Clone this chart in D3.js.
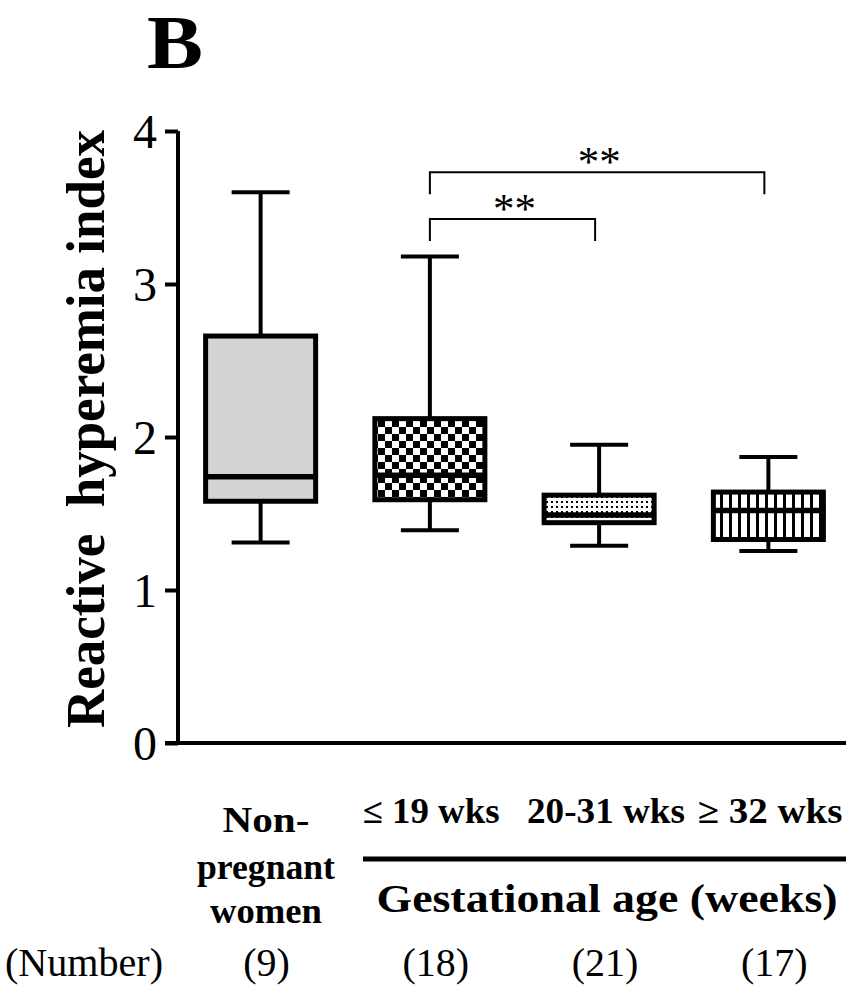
<!DOCTYPE html>
<html>
<head>
<meta charset="utf-8">
<script src="https://cdn.jsdelivr.net/npm/d3@7"></script>
<style>
  body { margin: 0; background: #fff; }
  text { font-family: "Liberation Serif", "Times New Roman", serif; }
</style>
</head>
<body>
<div id="chart"></div>
<script>
// box plot values
var groups = ['nonpreg', 'le19', '20-31', 'ge32'];
var mins    = [1.31, 1.39, 1.29, 1.255];
var q1s     = [1.58, 1.59, 1.44, 1.33];
var medians = [1.74, 1.75, 1.49, 1.52];
var q3s     = [2.66, 2.12, 1.62, 1.64];
var maxs    = [3.60, 3.18, 1.95, 1.87];
var fills   = ['#d3d3d3', 'url(#checker)', 'url(#dots)', 'url(#stripes)'];
var counts  = ['(9)', '(18)', '(21)', '(17)'];
var yTicks  = [0, 1, 2, 3, 4];
// [from group, to group, bracket height]
var sigPairs = [[1, 2, 3.425], [1, 3, 3.73]];

var width = 858, height = 990;

var svg = d3.select('#chart').append('svg')
  .attr('width', width)
  .attr('height', height);

var x = d3.scaleBand().domain(groups).range([176, 853])
  .paddingInner(0.35).paddingOuter(0.175);
var y = d3.scaleLinear().domain([0, 4]).range([743, 131]);

// fill patterns
var defs = svg.append('defs');
var ch = defs.append('pattern').attr('id', 'checker')
  .attr('patternUnits', 'userSpaceOnUse').attr('width', 14).attr('height', 14);
ch.append('rect').attr('width', 14).attr('height', 14).attr('fill', '#fff');
ch.append('rect').attr('width', 7).attr('height', 7).attr('fill', '#000');
ch.append('rect').attr('x', 7).attr('y', 7).attr('width', 7).attr('height', 7).attr('fill', '#000');

var dt = defs.append('pattern').attr('id', 'dots')
  .attr('patternUnits', 'userSpaceOnUse').attr('width', 5).attr('height', 5);
dt.append('rect').attr('width', 5).attr('height', 5).attr('fill', '#fff');
dt.append('rect').attr('x', 1).attr('y', 1).attr('width', 2).attr('height', 2).attr('fill', '#000');

var st = defs.append('pattern').attr('id', 'stripes')
  .attr('patternUnits', 'userSpaceOnUse').attr('width', 9).attr('height', 9);
st.append('rect').attr('width', 9).attr('height', 9).attr('fill', '#fff');
st.append('rect').attr('width', 3).attr('height', 9).attr('fill', '#000');

// axes
var yAxis = svg.append('g')
  .attr('transform', 'translate(178,0)')
  .call(d3.axisLeft(y).tickValues(yTicks).tickFormat(d3.format('d')).tickSize(13).tickPadding(8));
yAxis.select('.domain').attr('stroke-width', 4).attr('d', 'M0,' + y(4) + 'V' + y(0));
yAxis.selectAll('.tick line').attr('stroke-width', 4);
yAxis.selectAll('.tick text')
  .style('font-family', '"Liberation Serif", serif')
  .style('font-size', '48px')
  .attr('dy', '0.34em');

svg.append('line')
  .attr('x1', 165).attr('x2', 846)
  .attr('y1', y(0)).attr('y2', y(0))
  .attr('stroke', '#000').attr('stroke-width', 4);

// boxes
var cx = function(i) { return x(groups[i]) + x.bandwidth() / 2; };
var capHalf = 29;

groups.forEach(function(g, i) {
  var c = cx(i);
  var gg = svg.append('g');
  gg.append('line').attr('x1', c).attr('x2', c)
    .attr('y1', y(maxs[i])).attr('y2', y(q3s[i]))
    .attr('stroke', '#000').attr('stroke-width', 4);
  gg.append('line').attr('x1', c).attr('x2', c)
    .attr('y1', y(q1s[i])).attr('y2', y(mins[i]))
    .attr('stroke', '#000').attr('stroke-width', 4);
  gg.append('line').attr('x1', c - capHalf).attr('x2', c + capHalf)
    .attr('y1', y(maxs[i])).attr('y2', y(maxs[i]))
    .attr('stroke', '#000').attr('stroke-width', 4);
  gg.append('line').attr('x1', c - capHalf).attr('x2', c + capHalf)
    .attr('y1', y(mins[i])).attr('y2', y(mins[i]))
    .attr('stroke', '#000').attr('stroke-width', 4);
  gg.append('rect')
    .attr('x', x(g)).attr('width', x.bandwidth())
    .attr('y', y(q3s[i])).attr('height', y(q1s[i]) - y(q3s[i]))
    .attr('fill', fills[i])
    .attr('stroke', '#000').attr('stroke-width', 5);
  gg.append('line').attr('x1', x(g)).attr('x2', x(g) + x.bandwidth() + 2)
    .attr('y1', y(medians[i])).attr('y2', y(medians[i]))
    .attr('stroke', '#000').attr('stroke-width', 5.5);
});

// significance brackets
sigPairs.forEach(function(p) {
  var x1 = cx(p[0]), x2 = cx(p[1]) - 4, yy = y(p[2]);
  svg.append('path')
    .attr('d', 'M' + x1 + ',' + (yy + 22) + 'V' + yy + 'H' + x2 + 'V' + (yy + 22))
    .attr('fill', 'none').attr('stroke', '#000').attr('stroke-width', 2);
  svg.append('text')
    .attr('x', (x1 + x2) / 2 + 2).attr('y', yy + 4)
    .attr('text-anchor', 'middle')
    .style('font-size', '43px')
    .text('**');
});

// panel letter
svg.append('text')
  .attr('x', 147).attr('y', 68)
  .attr('textLength', 56).attr('lengthAdjust', 'spacingAndGlyphs')
  .style('font-size', '76px').style('font-weight', 'bold')
  .text('B');

// y title
svg.append('text')
  .attr('transform', 'translate(104,429) rotate(-90)')
  .attr('text-anchor', 'middle')
  .attr('textLength', 598).attr('lengthAdjust', 'spacingAndGlyphs')
  .style('white-space', 'pre')
  .style('font-size', '54px').style('font-weight', 'bold')
  .text('Reactive  hyperemia index');

// category labels
var nonLines = ['Non-', 'pregnant', 'women'];
var nonWidths = [87, 138, 112];
var nonBase = [832, 879, 923];
nonLines.forEach(function(t, k) {
  svg.append('text')
    .attr('x', 266).attr('y', nonBase[k])
    .attr('text-anchor', 'middle')
    .attr('textLength', nonWidths[k]).attr('lengthAdjust', 'spacingAndGlyphs')
    .style('font-size', '35px').style('font-weight', 'bold')
    .text(t);
});
var gestLabels = ['\u2264 19 wks', '20-31 wks', '\u2265 32 wks'];
var gestWidths = [137, 158, 145];
var gestCenters = [431, 606, 770];
gestLabels.forEach(function(t, k) {
  svg.append('text')
    .attr('x', gestCenters[k]).attr('y', 823)
    .attr('text-anchor', 'middle')
    .attr('textLength', gestWidths[k]).attr('lengthAdjust', 'spacingAndGlyphs')
    .style('font-size', '35px').style('font-weight', 'bold')
    .text(t);
});
svg.append('line')
  .attr('x1', 363).attr('x2', 846)
  .attr('y1', 859).attr('y2', 859)
  .attr('stroke', '#000').attr('stroke-width', 5);
svg.append('text')
  .attr('x', 607).attr('y', 912)
  .attr('text-anchor', 'middle')
  .attr('textLength', 461).attr('lengthAdjust', 'spacingAndGlyphs')
  .style('font-size', '40px').style('font-weight', 'bold')
  .text('Gestational age (weeks)');

// counts row
svg.append('text')
  .attr('x', 5).attr('y', 976)
  .attr('textLength', 158).attr('lengthAdjust', 'spacingAndGlyphs')
  .style('font-size', '40px')
  .text('(Number)');
counts.forEach(function(t, i) {
  svg.append('text')
    .attr('x', cx(i) + 6).attr('y', 976)
    .attr('text-anchor', 'middle')
    .style('font-size', '40px')
    .text(t);
});
</script>
</body>
</html>
